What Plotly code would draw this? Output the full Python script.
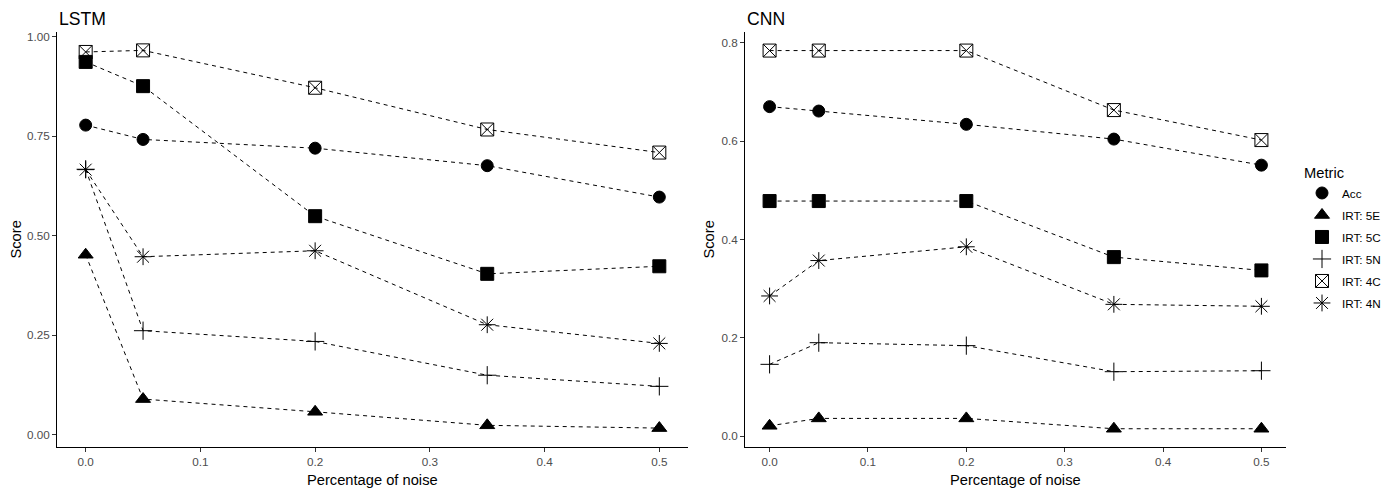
import plotly.graph_objects as go
from plotly.subplots import make_subplots

noise = [0.0, 0.05, 0.2, 0.35, 0.5]
metrics = ["Acc", "IRT: 5E", "IRT: 5C", "IRT: 5N", "IRT: 4C", "IRT: 4N"]

lstm_acc = [0.778, 0.742, 0.720, 0.676, 0.597]
lstm_5e = [0.452, 0.089, 0.057, 0.023, 0.016]
lstm_5c = [0.937, 0.876, 0.549, 0.404, 0.423]
lstm_5n = [0.667, 0.261, 0.234, 0.149, 0.121]
lstm_4c = [0.962, 0.966, 0.872, 0.767, 0.709]
lstm_4n = [0.666, 0.447, 0.462, 0.276, 0.229]

cnn_acc = [0.670, 0.661, 0.634, 0.604, 0.551]
cnn_5e = [0.021, 0.036, 0.036, 0.015, 0.015]
cnn_5c = [0.478, 0.478, 0.478, 0.364, 0.337]
cnn_5n = [0.146, 0.190, 0.184, 0.131, 0.133]
cnn_4c = [0.784, 0.784, 0.784, 0.663, 0.602]
cnn_4n = [0.285, 0.357, 0.385, 0.268, 0.264]

lstm = [lstm_acc, lstm_5e, lstm_5c, lstm_5n, lstm_4c, lstm_4n]
cnn = [cnn_acc, cnn_5e, cnn_5c, cnn_5n, cnn_4c, cnn_4n]

symbols = ["circle", "triangle-up", "square", "cross-thin-open", "square-x-open", "asterisk-open"]
sizes = [12, 13, 13, 13, 13, 14]

W, H = 1390, 494
FONT = "Liberation Sans, Arial"
fig = make_subplots(rows=1, cols=2)

for col, data in [(1, lstm), (2, cnn)]:
    for vals in data:
        fig.add_trace(go.Scatter(x=noise, y=vals, mode="lines",
                                 line=dict(color="black", width=1, dash="4px,4px"),
                                 showlegend=False, hoverinfo="skip"), row=1, col=col)
    for i, (name, vals) in enumerate(zip(metrics, data)):
        fig.add_trace(go.Scatter(x=noise, y=vals, mode="markers", name=name,
                                 legendgroup=name, showlegend=(col == 1),
                                 marker=dict(symbol=symbols[i], size=sizes[i], color="black",
                                             line=dict(color="black", width=1))),
                      row=1, col=col)

def px_x(p):
    return p / W

def px_y(p):
    return 1 - p / H

axis_common = dict(showgrid=False, zeroline=False, showline=True, linecolor="black", linewidth=1,
                   ticks="outside", ticklen=4, tickcolor="#333333", tickwidth=1,
                   tickfont=dict(family=FONT, size=11.7, color="#4D4D4D"))

fig.update_xaxes(range=[-0.025, 0.525], tickvals=[0, 0.1, 0.2, 0.3, 0.4, 0.5],
                 ticktext=["0.0", "0.1", "0.2", "0.3", "0.4", "0.5"], **axis_common)
fig.update_layout(
    xaxis=dict(domain=[px_x(57), px_x(688)]),
    xaxis2=dict(domain=[px_x(745), px_x(1286)]),
    yaxis=dict(domain=[px_y(447), px_y(30)], range=[-0.032, 1.0125],
               tickvals=[0, 0.25, 0.5, 0.75, 1.0], ticktext=["0.00", "0.25", "0.50", "0.75", "1.00"], **axis_common),
    yaxis2=dict(domain=[px_y(447), px_y(30)], range=[-0.0225, 0.822],
                tickvals=[0, 0.2, 0.4, 0.6, 0.8], ticktext=["0.0", "0.2", "0.4", "0.6", "0.8"], **axis_common),
)

ann = []
font_title = dict(family=FONT, size=17.6, color="black")
font_axis = dict(family=FONT, size=14.7, color="black")
ann.append(dict(text="LSTM", x=px_x(57), y=px_y(17), xanchor="left", yanchor="middle", font=font_title))
ann.append(dict(text="CNN", x=px_x(745), y=px_y(17), xanchor="left", yanchor="middle", font=font_title))
ann.append(dict(text="Percentage of noise", x=px_x(372.5), y=px_y(480), xanchor="center", yanchor="middle", font=font_axis))
ann.append(dict(text="Percentage of noise", x=px_x(1015.5), y=px_y(480), xanchor="center", yanchor="middle", font=font_axis))
ann.append(dict(text="Score", x=px_x(16), y=px_y(238.5), xanchor="center", yanchor="middle", textangle=-90, font=font_axis))
ann.append(dict(text="Score", x=px_x(709), y=px_y(238.5), xanchor="center", yanchor="middle", textangle=-90, font=font_axis))
for a in ann:
    a.update(xref="paper", yref="paper", showarrow=False)

fig.update_layout(
    width=W, height=H, margin=dict(l=0, r=0, t=0, b=0),
    paper_bgcolor="white", plot_bgcolor="white",
    annotations=ann,
    legend=dict(x=px_x(1302), y=px_y(158), xanchor="left", yanchor="top",
                title=dict(text="Metric", font=dict(family=FONT, size=14.7, color="black")),
                font=dict(family=FONT, size=11.7, color="black"),
                tracegroupgap=3, itemwidth=30, bgcolor="rgba(0,0,0,0)"),
)

fig.write_html("out.html")
